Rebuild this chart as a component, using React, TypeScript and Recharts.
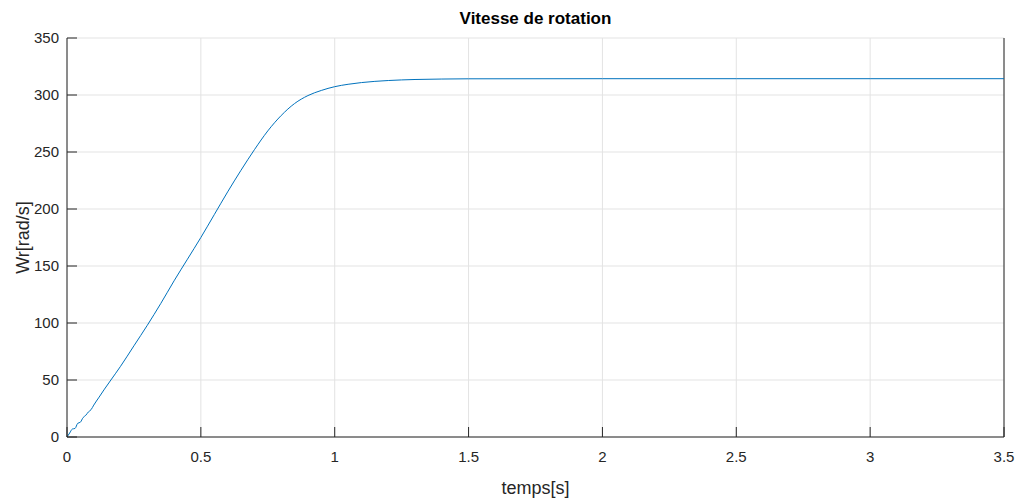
import { LineChart, Line, XAxis, YAxis, CartesianGrid, ReferenceLine } from "recharts"

// time (s) and rotor speed (rad/s)
const temps = [
  0, 0.01, 0.02, 0.03, 0.04, 0.05, 0.06, 0.07, 0.08, 0.09, 0.1, 0.12, 0.14, 0.164, 0.2, 0.25,
  0.3, 0.35, 0.4, 0.45, 0.5, 0.55, 0.6, 0.65, 0.7, 0.75, 0.8, 0.85, 0.9, 0.95, 1.0, 1.05,
  1.1, 1.2, 1.3, 1.4, 1.5, 2.0, 2.5, 3.0, 3.5,
]
const vitesse = [
  0, 3.5, 7, 7.5, 12, 13, 17, 19, 22, 24, 28, 35, 42, 50, 62, 80,
  98, 117, 137, 156, 175, 195, 215, 234, 252, 268.5, 282, 292.5, 299.5, 304, 307.3, 309.4,
  310.9, 312.7, 313.6, 314, 314.2, 314.3, 314.3, 314.3, 314.3,
]

const xTicks = [0, 0.5, 1, 1.5, 2, 2.5, 3, 3.5]
const yTicks = [0, 50, 100, 150, 200, 250, 300, 350]

const data = temps.map((t, i) => ({ t, w: vitesse[i] }))

const axisColor = "#262626"
const font = "'Liberation Sans', Arial, sans-serif"
const tickStyle = { fill: axisColor, fontSize: 15, fontFamily: font }

export default function App() {
  return (
    <div style={{ position: "absolute", left: 0, top: 0, width: 1024, height: 500, background: "#fff" }}>
      <div
        style={{
          position: "absolute",
          left: 67,
          width: 937,
          top: 9,
          textAlign: "center",
          fontFamily: font,
          fontWeight: "bold",
          fontSize: 17,
          color: "#000",
        }}
      >
        Vitesse de rotation
      </div>
      <LineChart
        width={1024}
        height={500}
        data={data}
        margin={{ top: 38, right: 20, bottom: 23, left: 7 }}
      >
        <CartesianGrid xAxisId="bottom" yAxisId="left" stroke="#e3e3e3" strokeWidth={1} />
        <XAxis
          xAxisId="bottom"
          dataKey="t"
          type="number"
          domain={[0, 3.5]}
          ticks={xTicks}
          height={40}
          stroke={axisColor}
          tick={tickStyle}
          tickSize={-10}
          tickMargin={24}
          interval={0}
          label={{ value: "temps[s]", position: "insideBottom", offset: -17, fill: axisColor, fontSize: 18, fontFamily: font }}
        />
        <XAxis
          xAxisId="top"
          orientation="top"
          dataKey="t"
          type="number"
          domain={[0, 3.5]}
          ticks={xTicks}
          height={0}
          stroke={axisColor}
          tick={false}
          tickSize={-10}
        />
        <YAxis
          yAxisId="left"
          domain={[0, 350]}
          ticks={yTicks}
          width={60}
          stroke={axisColor}
          tick={tickStyle}
          tickSize={-10}
          tickMargin={18}
          interval={0}
          label={{ value: "Wr[rad/s]", angle: -90, position: "insideLeft", offset: 16, fill: axisColor, fontSize: 18, fontFamily: font, style: { textAnchor: "middle" } }}
        />
        <YAxis
          yAxisId="right"
          orientation="right"
          domain={[0, 350]}
          ticks={yTicks}
          width={0}
          stroke={axisColor}
          tick={false}
          tickSize={-10}
        />
        <ReferenceLine xAxisId="bottom" yAxisId="left" x={3.5} stroke={axisColor} />
        <Line
          xAxisId="bottom"
          yAxisId="left"
          dataKey="w"
          type="monotone"
          stroke="#0072BD"
          strokeWidth={1}
          dot={false}
          isAnimationActive={false}
        />
      </LineChart>
    </div>
  )
}
